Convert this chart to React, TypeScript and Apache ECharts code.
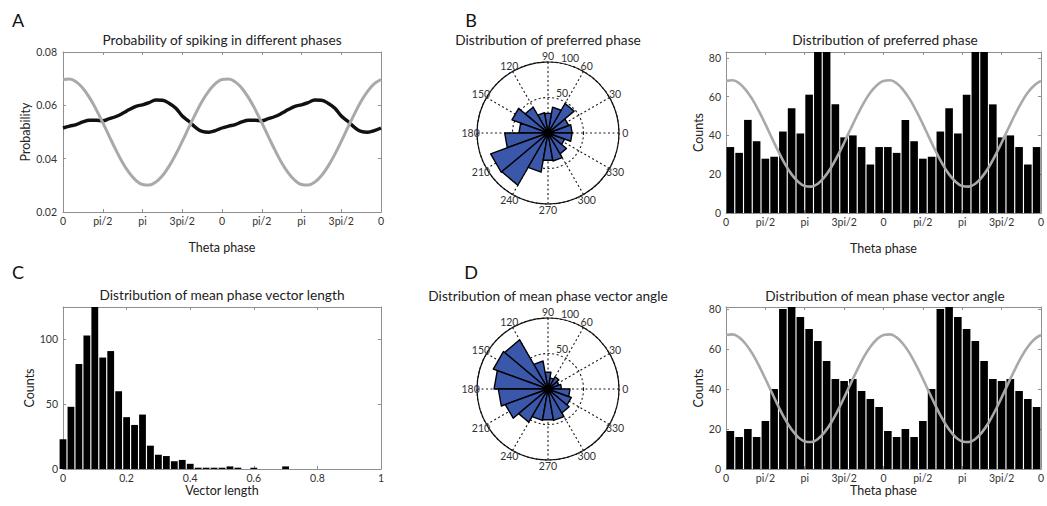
import React, { useEffect, useRef } from 'react';
import * as echarts from 'echarts';

const FONT = 'Lato, "Open Sans", sans-serif';
const FRAME = '#8f8f8f';
const INK = '#222222';
const TICK_INK = '#333333';
const REF_GRAY = '#a9a9a9';
const ROSE_BLUE = '#3b57a9';

// Phase axis runs in quarter-cycle units (1 = pi/2), two full cycles.
const PHASE_TICKS = ['0', 'pi/2', 'pi', '3pi/2'];
const CURVE_STEP_DEG = 15;
const PHASE_BIN_DEG = 20;

// A: probability of spiking, sampled every 15 deg over one theta cycle
const spikeProbability = [
  0.0515, 0.0522, 0.0528, 0.0538, 0.0544, 0.0544, 0.0542, 0.0550, 0.0558, 0.0570, 0.0584, 0.0596,
  0.0602, 0.0610, 0.0620, 0.0619, 0.0608, 0.0590, 0.0560, 0.0540, 0.0517, 0.0502, 0.0499, 0.0505,
];
const thetaReferenceA = [
  0.0697, 0.0699, 0.0688, 0.0664, 0.0629, 0.0585, 0.0535, 0.0483, 0.0432, 0.0385, 0.0347, 0.0319,
  0.0303, 0.0301, 0.0312, 0.0336, 0.0371, 0.0415, 0.0465, 0.0517, 0.0568, 0.0615, 0.0653, 0.0681,
];

// B: preferred phase, counts per 20 deg bin (0-20 ... 340-360)
const preferredPhaseCounts = [34, 31, 48, 37, 28, 29, 42, 54, 41, 61, 86, 85, 56, 39, 40, 34, 25, 34];
const thetaReferenceB = [
  68.1, 68.4, 66.9, 63.5, 58.7, 52.6, 45.8, 38.6, 31.6, 25.2, 19.9, 16.1,
  13.9, 13.6, 15.1, 18.5, 23.3, 29.4, 36.2, 43.4, 50.4, 56.8, 62.1, 65.9,
];

// C: mean phase vector length, counts per 0.025 bin (centres 0, 0.025, ...)
const VECTOR_LENGTH_BIN = 0.025;
const vectorLengthCounts = [
  23, 48, 81, 103, 125, 86, 91, 60, 40, 34, 42, 18, 11, 10, 6, 7, 4, 1, 1, 1, 1, 2, 1, 0, 1, 0, 0, 0, 2,
];

// D: mean phase vector angle, counts per 20 deg bin
const vectorAngleCounts = [19, 16, 20, 16, 24, 40, 80, 82, 76, 70, 64, 54, 45, 44, 45, 39, 35, 31];
const thetaReferenceD = [
  67.0, 67.3, 65.8, 62.5, 57.8, 51.8, 45.1, 38.1, 31.2, 24.9, 19.7, 15.9,
  13.8, 13.5, 15.0, 18.3, 23.0, 29.0, 35.7, 42.7, 49.6, 55.9, 61.1, 64.9,
];

const ROSE_ANGLE_TICKS = [0, 30, 60, 90, 120, 150, 180, 210, 240, 270, 300, 330];
const ROSE_RADIUS_TICKS = [50, 100];
const ROSE_LABEL_RADIUS = 109;
const ROSE_RADIUS_LABEL_ANGLE = 82;

const TITLES = [
  { text: 'Probability of spiking in different phases', x: 222, y: 39 },
  { text: 'Distribution of preferred phase', x: 548, y: 39 },
  { text: 'Distribution of preferred phase', x: 885, y: 39 },
  { text: 'Distribution of mean phase vector length', x: 222, y: 294 },
  { text: 'Distribution of mean phase vector angle', x: 548, y: 295 },
  { text: 'Distribution of mean phase vector angle', x: 885, y: 295 },
];
const PANEL_LETTERS = [
  { text: 'A', x: 18, y: 20 },
  { text: 'B', x: 471, y: 20 },
  { text: 'C', x: 18, y: 272 },
  { text: 'D', x: 471, y: 272 },
];

const curveTwoCycles = (vals: number[]) => {
  const pts: number[][] = [];
  for (let c = 0; c < 2; c++) {
    vals.forEach((v, i) => pts.push([(c * 360 + i * CURVE_STEP_DEG) / 90, v]));
  }
  pts.push([8, vals[0]]);
  return pts;
};

const binsTwoCycles = (counts: number[]) => {
  const pts: number[][] = [];
  for (let c = 0; c < 2; c++) {
    counts.forEach((v, i) => pts.push([(c * 360 + (i + 0.5) * PHASE_BIN_DEG) / 90, v]));
  }
  return pts;
};

type AxisSpec = {
  min: number;
  max: number;
  interval: number;
  formatter?: (v: number) => string;
  name: string;
  nameGap: number;
  labelMargin: number;
};

const axisPair = (dir: 'x' | 'y', grid: number, s: AxisSpec) => {
  const base = {
    type: 'value',
    gridIndex: grid,
    min: s.min,
    max: s.max,
    interval: s.interval,
    axisLine: { show: true, onZero: false, lineStyle: { color: FRAME, width: 1 } },
    axisTick: { show: true, inside: true, length: 3, lineStyle: { color: FRAME, width: 1 } },
    splitLine: { show: false },
  };
  const main = {
    ...base,
    position: dir === 'x' ? 'bottom' : 'left',
    axisLabel: {
      show: true,
      margin: s.labelMargin,
      formatter: s.formatter,
      color: TICK_INK,
      fontFamily: FONT,
      fontSize: 10.5,
    },
    name: s.name,
    nameLocation: 'middle',
    nameGap: s.nameGap,
    nameTextStyle: { color: INK, fontFamily: FONT, fontSize: 12.5 },
  };
  const mirror = { ...base, position: dir === 'x' ? 'top' : 'right', axisLabel: { show: false } };
  return [main, mirror];
};

const phaseFormatter = (v: number) => PHASE_TICKS[Math.round(v) % 4];
const stepFormatter = (step: number) => (v: number) =>
  Math.abs(v / step - Math.round(v / step)) < 1e-6 ? String(v) : '';

const roseWedges = (polarIndex: number, counts: number[]) => ({
  type: 'custom',
  coordinateSystem: 'polar',
  polarIndex,
  silent: true,
  data: counts.map((v, i) => [v, i * PHASE_BIN_DEG, (i + 1) * PHASE_BIN_DEG]),
  renderItem: (_params: any, api: any) => {
    const r = api.value(0);
    const c = api.coord([0, 0]).slice(0, 2);
    const p0 = api.coord([r, api.value(1)]).slice(0, 2);
    const p1 = api.coord([r, api.value(2)]).slice(0, 2);
    return {
      type: 'polygon',
      shape: { points: [c, p0, p1] },
      style: { fill: ROSE_BLUE, stroke: '#000', lineWidth: 1.4, lineJoin: 'round' },
    };
  },
});

const roseAngleLabels = (polarIndex: number) => ({
  type: 'custom',
  coordinateSystem: 'polar',
  polarIndex,
  silent: true,
  data: ROSE_ANGLE_TICKS.map((a) => [ROSE_LABEL_RADIUS, a]),
  renderItem: (_params: any, api: any) => {
    const a = api.value(1);
    const p = api.coord([api.value(0), a]);
    return {
      type: 'text',
      x: p[0],
      y: p[1],
      style: {
        text: String(a),
        align: 'center',
        verticalAlign: 'middle',
        textAlign: 'center',
        textVerticalAlign: 'middle',
        fill: TICK_INK,
        fontFamily: FONT,
        fontSize: 10.5,
      },
    };
  },
});

const roseRadiusLabels = (polarIndex: number) => ({
  type: 'custom',
  coordinateSystem: 'polar',
  polarIndex,
  silent: true,
  data: ROSE_RADIUS_TICKS.map((r) => [r, ROSE_RADIUS_LABEL_ANGLE]),
  renderItem: (_params: any, api: any) => {
    const r = api.value(0);
    const p = api.coord([r, api.value(1)]);
    return {
      type: 'text',
      x: p[0] + 3,
      y: p[1] + 1,
      style: {
        text: String(r),
        align: 'left',
        verticalAlign: 'bottom',
        textAlign: 'left',
        textVerticalAlign: 'bottom',
        fill: TICK_INK,
        fontFamily: FONT,
        fontSize: 10.5,
      },
    };
  },
});

const dotted = { color: '#1a1a1a', width: 1.1, type: [2, 2.5] };

export default function App() {
  const ref = useRef<HTMLDivElement>(null);

  useEffect(() => {
    if (!ref.current) return;
    const chart = echarts.init(ref.current, undefined, { renderer: 'svg' });

    const xAxis = [
      ...axisPair('x', 0, { min: 0, max: 8, interval: 1, formatter: phaseFormatter, name: 'Theta phase', nameGap: 28.5, labelMargin: 3 }),
      ...axisPair('x', 1, { min: 0, max: 8, interval: 1, formatter: phaseFormatter, name: 'Theta phase', nameGap: 28.5, labelMargin: 3 }),
      ...axisPair('x', 2, { min: 0, max: 1, interval: 0.2, name: 'Vector length', nameGap: 14.5, labelMargin: 3 }),
      ...axisPair('x', 3, { min: 0, max: 8, interval: 1, formatter: phaseFormatter, name: 'Theta phase', nameGap: 14.5, labelMargin: 3 }),
    ];
    const yAxis = [
      ...axisPair('y', 0, { min: 0.02, max: 0.08, interval: 0.02, formatter: (v: number) => v.toFixed(2), name: 'Probability', nameGap: 27.5, labelMargin: 6 }),
      ...axisPair('y', 1, { min: 0, max: 83, interval: 20, formatter: stepFormatter(20), name: 'Counts', nameGap: 19.5, labelMargin: 5 }),
      ...axisPair('y', 2, { min: 0, max: 125, interval: 50, formatter: stepFormatter(50), name: 'Counts', nameGap: 25.5, labelMargin: 5 }),
      ...axisPair('y', 3, { min: 0, max: 81, interval: 20, formatter: stepFormatter(20), name: 'Counts', nameGap: 19.5, labelMargin: 5 }),
    ];

    const grayLine = (axisIdx: number, data: number[][], width: number) => ({
      type: 'line',
      xAxisIndex: axisIdx,
      yAxisIndex: axisIdx,
      data,
      smooth: 0.4,
      showSymbol: false,
      z: 4,
      lineStyle: { color: REF_GRAY, width },
    });
    const blackBars = (axisIdx: number, data: number[][], barWidth: number) => ({
      type: 'bar',
      xAxisIndex: axisIdx,
      yAxisIndex: axisIdx,
      data,
      barWidth,
      clip: true,
      itemStyle: { color: '#000' },
    });

    const polarAxes = [0, 1];

    chart.setOption({
      animation: false,
      backgroundColor: '#ffffff',
      grid: [
        { left: 63, top: 52, width: 318, height: 160 },
        { left: 726, top: 52, width: 319, height: 161 },
        { left: 63, top: 307, width: 318, height: 162 },
        { left: 726, top: 307, width: 319, height: 162 },
      ],
      xAxis,
      yAxis,
      polar: [
        { center: [548, 133], radius: 71 },
        { center: [548, 389], radius: 71 },
      ],
      angleAxis: polarAxes.map((i) => ({
        polarIndex: i,
        type: 'value',
        min: 0,
        max: 360,
        interval: 30,
        startAngle: 0,
        clockwise: false,
        axisLine: { show: true, lineStyle: { color: '#111', width: 1.2 } },
        axisTick: { show: false },
        axisLabel: { show: false },
        splitLine: { show: true, lineStyle: dotted },
      })),
      radiusAxis: polarAxes.map((i) => ({
        polarIndex: i,
        type: 'value',
        min: 0,
        max: 100,
        interval: 50,
        axisLine: { show: false },
        axisTick: { show: false },
        axisLabel: { show: false },
        splitLine: { show: true, lineStyle: dotted },
      })),
      series: [
        {
          type: 'line',
          xAxisIndex: 0,
          yAxisIndex: 0,
          data: curveTwoCycles(spikeProbability),
          smooth: 0.4,
          showSymbol: false,
          lineStyle: { color: '#111', width: 3.4 },
        },
        grayLine(0, curveTwoCycles(thetaReferenceA), 3),
        blackBars(2, binsTwoCycles(preferredPhaseCounts), 7.6),
        grayLine(2, curveTwoCycles(thetaReferenceB), 2.6),
        blackBars(4, vectorLengthCounts.map((v, i) => [i * VECTOR_LENGTH_BIN, v]), 6.8),
        blackBars(6, binsTwoCycles(vectorAngleCounts), 7.6),
        grayLine(6, curveTwoCycles(thetaReferenceD), 2.6),
        roseWedges(0, preferredPhaseCounts),
        roseAngleLabels(0),
        roseRadiusLabels(0),
        roseWedges(1, vectorAngleCounts),
        roseAngleLabels(1),
        roseRadiusLabels(1),
      ],
      graphic: [
        ...TITLES.map((t) => ({
          type: 'text',
          x: t.x,
          y: t.y,
          silent: true,
          style: {
            text: t.text,
            align: 'center',
            verticalAlign: 'middle',
            textAlign: 'center',
            textVerticalAlign: 'middle',
            fill: INK,
            fontFamily: FONT,
            fontSize: 13.7,
          },
        })),
        ...PANEL_LETTERS.map((t) => ({
          type: 'text',
          x: t.x,
          y: t.y,
          silent: true,
          style: {
            text: t.text,
            align: 'center',
            verticalAlign: 'middle',
            textAlign: 'center',
            textVerticalAlign: 'middle',
            fill: '#111',
            fontFamily: FONT,
            fontSize: 18,
          },
        })),
      ],
    });

    return () => chart.dispose();
  }, []);

  return (
    <div
      ref={ref}
      style={{ position: 'fixed', left: 0, top: 0, width: 1047, height: 506, background: '#fff' }}
    />
  );
}
